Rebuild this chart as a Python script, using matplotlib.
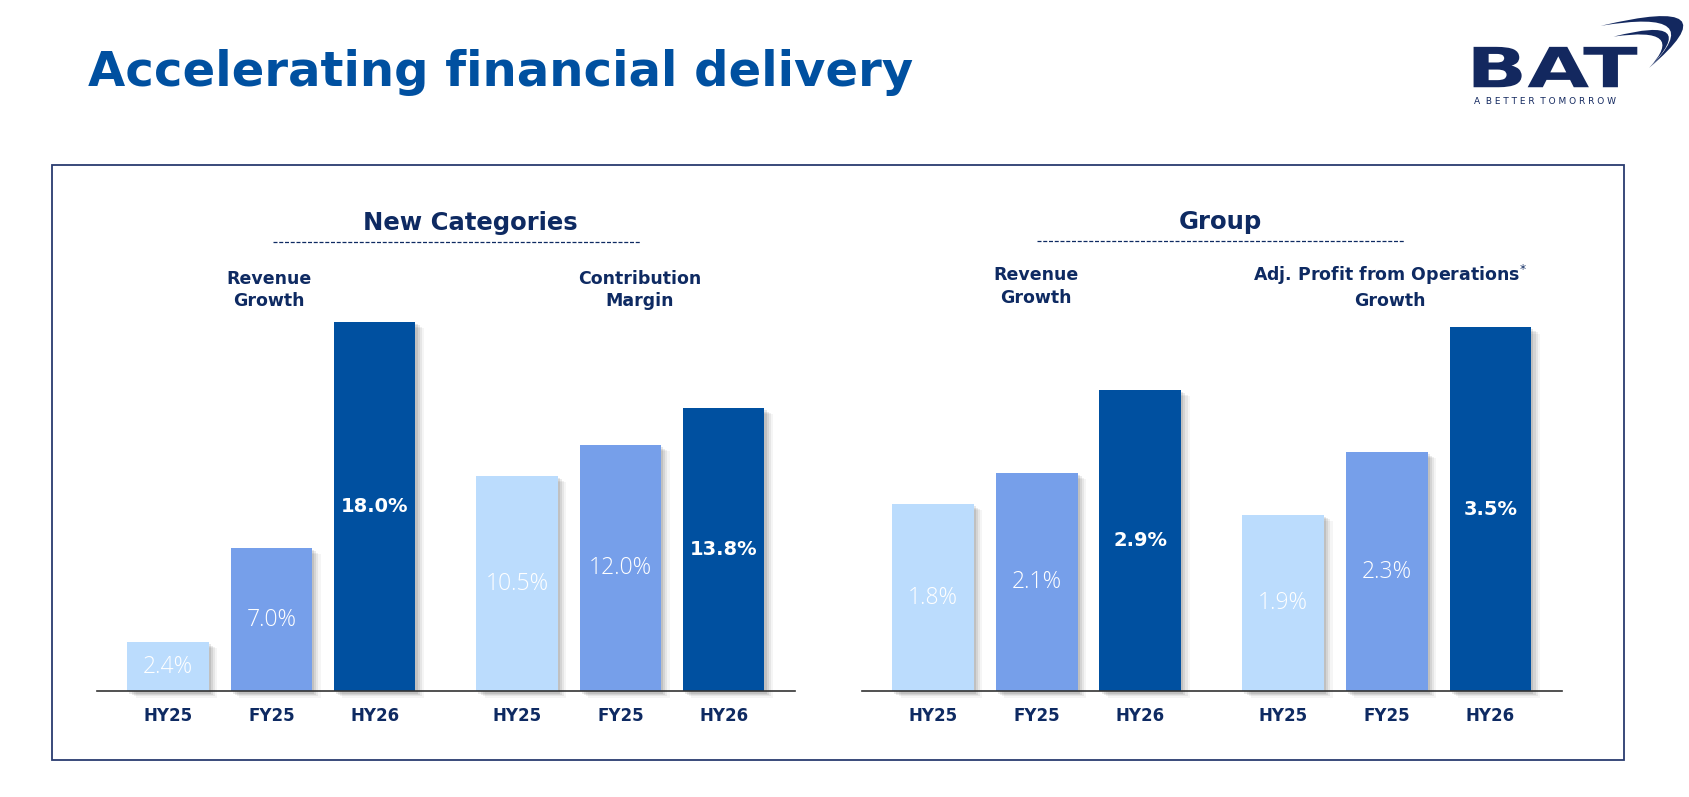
import matplotlib
matplotlib.use("Agg")
import matplotlib.pyplot as plt
import matplotlib.patheffects as pe
from matplotlib.patches import Rectangle, PathPatch
from matplotlib.path import Path
from matplotlib.lines import Line2D
from matplotlib.textpath import TextPath
from matplotlib.font_manager import FontProperties
from matplotlib.transforms import Affine2D, IdentityTransform

# data
categories = ["HY25", "FY25", "HY26"]
nc_revenue = [2.4, 7.0, 18.0]
nc_margin = [10.5, 12.0, 13.8]
grp_revenue = [1.8, 2.1, 2.9]
grp_profit = [1.7, 2.3, 3.5]   # bar heights as drawn on the slide
nc_revenue_lbl = ["2.4%", "7.0%", "18.0%"]
nc_margin_lbl = ["10.5%", "12.0%", "13.8%"]
grp_revenue_lbl = ["1.8%", "2.1%", "2.9%"]
grp_profit_lbl = ["1.9%", "2.3%", "3.5%"]

bar_colors = ["#BBDCFD", "#769FEA", "#0050A0"]
navy = "#0E2A62"
title_blue = "#0050A0"
logo_navy = "#13285F"
FONT = "DejaVu Sans"

W, H = 1568.0, 740.0   # coordinates I measured on the slide
PW, PH = 1689.0, 797.0


def fx(x):
    return x / W


def fy(y):
    return 1 - y / H


fig = plt.figure(figsize=(16.89, 7.97), dpi=100)
fig.patch.set_facecolor("white")


def fit_text(t, width):
    # shrink/grow a text so it spans `width` slide units
    fig.canvas.draw()
    r = fig.canvas.get_renderer()
    bb = t.get_window_extent(r)
    target = width / W * fig.bbox.width
    t.set_fontsize(t.get_fontsize() * target / bb.width)


title = fig.text(fx(82), fy(80), "Accelerating financial delivery", fontsize=36,
                 fontweight="bold", color=title_blue, family=FONT, ha="left", va="baseline")
fit_text(title, 768)

# outer frame
fig.add_artist(Rectangle((fx(48), fy(706)), fx(1508) - fx(48), fy(153) - fy(706),
                         transform=fig.transFigure, fill=False, edgecolor="#2A3B70", lw=1.3))

# section headings with dashed rules
for txt, cx, y, x0, x1, wdt in [("New Categories", 437, 214, 253, 594, 200),
                                ("Group", 1133, 213, 963, 1303, 78)]:
    t = fig.text(fx(cx), fy(y), txt, fontsize=17, fontweight="bold", color=navy,
                 family=FONT, ha="center", va="baseline")
    fit_text(t, wdt)
    fig.add_artist(Line2D([fx(x0), fx(x1)], [fy(y + 11), fy(y + 11)], transform=fig.transFigure,
                          color=navy, lw=0.9, dashes=(3.2, 1.4)))

# sub headings
subs = [("Revenue\nGrowth", 250, 269), ("Contribution\nMargin", 594, 269),
        ("Revenue\nGrowth", 962, 266), ("Adj. Profit from Operations$^{*}$\nGrowth", 1290, 266)]
for txt, cx, y in subs:
    fig.text(fx(cx), fy(y), txt, fontsize=12.5, fontweight="bold", color=navy,
             family=FONT, ha="center", va="center", linespacing=1.3)

shadow = [pe.SimplePatchShadow(offset=(1.5, -1.5), shadow_rgbFace="k", alpha=0.09),
          pe.SimplePatchShadow(offset=(3, -2.5), shadow_rgbFace="k", alpha=0.08),
          pe.SimplePatchShadow(offset=(4.5, -3.5), shadow_rgbFace="k", alpha=0.06),
          pe.SimplePatchShadow(offset=(6, -4.5), shadow_rgbFace="k", alpha=0.04),
          pe.Normal()]

xpos = [0, 1, 2, 3.38, 4.38, 5.38]


def panel(x0, x1, scale, series, labels):
    base = 642
    top = 230
    ax = fig.add_axes([fx(x0), fy(base), fx(x1) - fx(x0), fy(top) - fy(base)])
    ax.set_xlim(-0.69, 6.07)
    ax.set_ylim(0, (base - top) / scale)
    vals = series[0] + series[1]
    lbls = labels[0] + labels[1]
    cols = bar_colors + bar_colors
    bars = ax.bar(xpos, vals, width=0.79, color=cols, zorder=2, clip_on=False)
    for b in bars:
        b.set_path_effects(shadow)
    for i, (x, v, l) in enumerate(zip(xpos, vals, lbls)):
        bold = i % 3 == 2
        if bold:
            ax.text(x, v / 2, l, ha="center", va="center", color="white", zorder=3,
                    fontsize=14, fontweight="bold", family=FONT)
        else:
            ax.text(x, v / 2, l, ha="center", va="center", color="white", zorder=3,
                    fontsize=16.5, fontweight="light", family="Open Sans")
    for s in ["top", "right", "left"]:
        ax.spines[s].set_visible(False)
    ax.spines["bottom"].set_color("#333333")
    ax.spines["bottom"].set_linewidth(1.2)
    ax.spines["bottom"].set_zorder(4)
    ax.set_yticks([])
    ax.set_xticks(xpos)
    ax.set_xticklabels(categories * 2, fontsize=12, fontweight="bold", color=navy, family=FONT)
    ax.tick_params(axis="x", length=0, pad=11)
    ax.patch.set_alpha(0)
    return ax


panel(90, 738, 19.06, [nc_revenue, nc_margin], [nc_revenue_lbl, nc_margin_lbl])
panel(800, 1450, 96.6, [grp_revenue, grp_profit], [grp_revenue_lbl, grp_profit_lbl])


# ---- BAT logo ----
def px(x, y):
    # slide units -> output pixels (origin bottom-left)
    return x * PW / W, (H - y) * PH / H


tp = TextPath((0, 0), "BAT", size=100, prop=FontProperties(family=FONT, weight="heavy"))
ext = tp.get_extents()
x0p, y0p = px(1368, 81)
x1p, y1p = px(1520, 43.5)
tr = Affine2D().translate(-ext.x0, 0).scale((x1p - x0p) / ext.width, (y1p - y0p) / ext.height) \
    .translate(x0p, y0p)
fig.add_artist(PathPatch(tr.transform_path(tp), transform=IdentityTransform(),
                         facecolor=logo_navy, edgecolor="none"))

t = fig.text(fx(1368), fy(97), "A  B E T T E R  T O M O R R O W", fontsize=6.5, color=logo_navy,
             family=FONT, ha="left", va="baseline")
fit_text(t, 132)


def crescent(a, c_out, b, c_in):
    verts = [px(*a), px(*c_out), px(*b), px(*c_in), px(*a), px(*a)]
    codes = [Path.MOVETO, Path.CURVE3, Path.CURVE3, Path.CURVE3, Path.CURVE3, Path.CLOSEPOLY]
    fig.add_artist(PathPatch(Path(verts, codes), transform=IdentityTransform(),
                             facecolor=logo_navy, edgecolor="none"))


crescent((1486, 24), (1612, -6), (1531, 63), (1588, 7))
crescent((1498, 34), (1580, 13), (1531, 63), (1567, 24))

fig.savefig("out.png", dpi=100, facecolor="white")
